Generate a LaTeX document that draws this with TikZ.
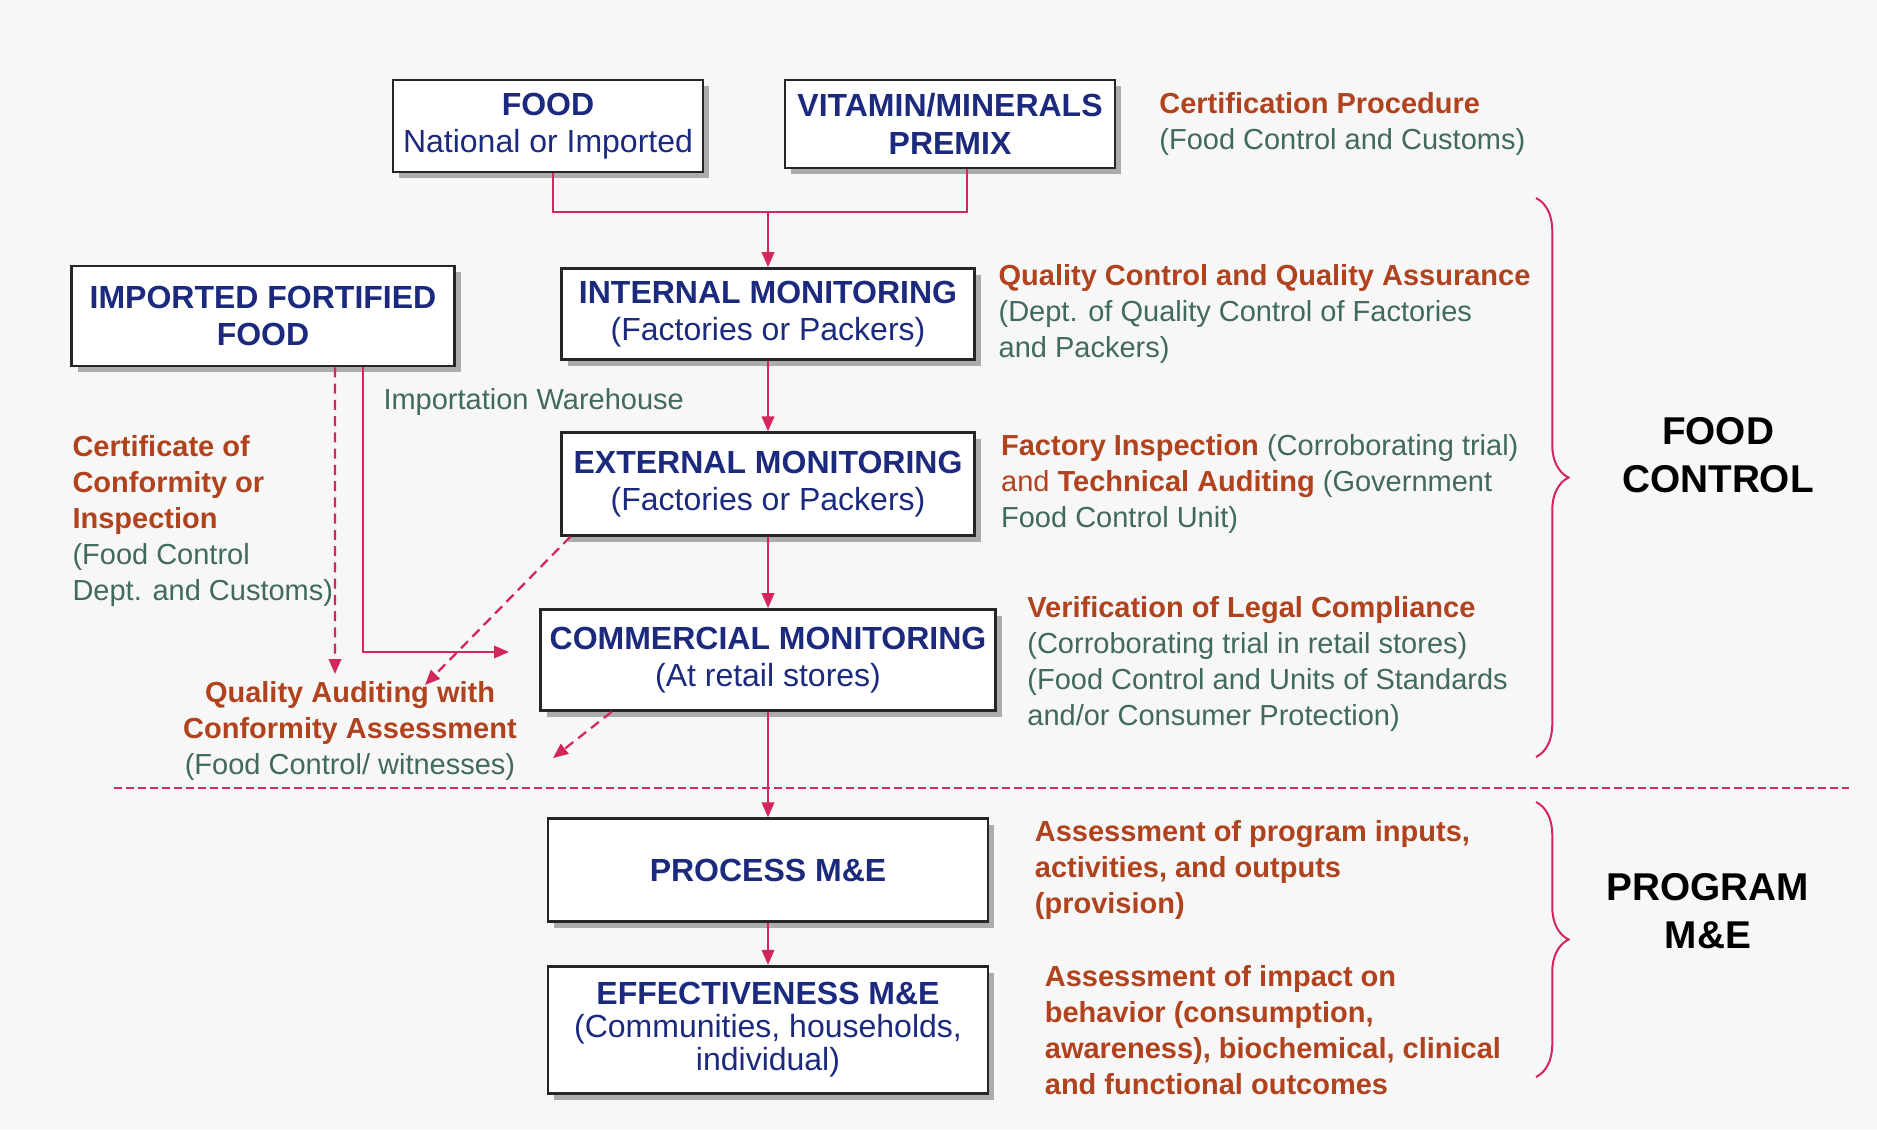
\documentclass[tikz,border=0pt]{standalone}
\usepackage{fontspec}
\setmainfont{Liberation Sans}
\usetikzlibrary{positioning, arrows.meta, shadows, decorations.pathreplacing}
\definecolor{navy}{HTML}{1C2A7E}
\definecolor{rust}{HTML}{B0431D}
\definecolor{sage}{HTML}{41695D}
\definecolor{crimson}{HTML}{D3265A}
\definecolor{paper}{HTML}{F7F7F7}
\newcommand{\boxfont}{\fontsize{12.8}{15}\selectfont}
\newcommand{\notefont}{\fontsize{11.6}{14.4}\selectfont}
\newcommand{\redbf}[1]{\textcolor{rust}{\textbf{#1}}}

\begin{document}
\begin{tikzpicture}[
    x=0.4pt, y=-0.4pt,
    box/.style={rectangle, draw=black!85, fill=white, line width=1.1pt, align=center, text=navy, font=\boxfont, inner sep=2pt,
        drop shadow={shadow xshift=2.5pt, shadow yshift=-2.5pt, fill=black, opacity=0.3}},
    note/.style={align=left, text=sage, font=\notefont, inner sep=0pt},
    link/.style={draw=crimson, line width=0.8pt},
    arrow/.style={link, -{Triangle[length=6pt, width=5pt]}},
    dasharrow/.style={arrow, line width=0.9pt, dash pattern=on 4pt off 2.5pt},
    brace/.style={draw=crimson, line width=0.8pt, decorate, decoration={brace, amplitude=13pt}},
    section/.style={font=\fontsize{15.5}{19.2}\selectfont\bfseries, align=center},
]

% Background
\fill[paper] (0,0) rectangle (1877,1129);

% Sources
\node[box, minimum width=124pt, minimum height=36.8pt] (food) at (548,126) {\textbf{FOOD}\\National or Imported};
\node[box, minimum width=132pt, minimum height=35.2pt] (premix) at (950,124) {\textbf{VITAMIN/MINERALS}\\\textbf{PREMIX}};
\node[box, minimum width=153pt, minimum height=40pt] (impfood) at (263,316) {\textbf{IMPORTED FORTIFIED}\\\textbf{FOOD}};

% Food control chain
\node[box, minimum width=165pt, minimum height=36.4pt] (intmon) at (768,314) {\textbf{INTERNAL MONITORING}\\(Factories or Packers)};
\node[box, minimum width=165pt, minimum height=41pt] (extmon) at (768,484) {\textbf{EXTERNAL MONITORING}\\(Factories or Packers)};
\node[box, minimum width=182pt, minimum height=40.4pt] (common) at (768,660) {\textbf{COMMERCIAL MONITORING}\\(At retail stores)};

% Program M&E chain
\node[box, minimum width=176pt, minimum height=41pt] (procme) at (768,870) {\textbf{PROCESS M\&E}};
\node[box, minimum width=176pt, minimum height=51pt, font=\fontsize{12.8}{13.2}\selectfont] (effme) at (768,1030) {\textbf{EFFECTIVENESS M\&E}\\(Communities, households,\\individual)};

% Notes
\node[note, right=17pt of premix] (certproc) {\redbf{Certification Procedure}\\(Food Control and Customs)};
\node[note, right=9pt of intmon] (qcqa) {\redbf{Quality Control and Quality Assurance}\\(Dept. of Quality Control of Factories\\and Packers)};
\node[note, right=10pt of extmon] (factory) {\redbf{Factory Inspection} (Corroborating trial)\\\textcolor{rust}{and} \redbf{Technical Auditing} (Government\\Food Control Unit)};
\node[note, right=12pt of common, yshift=-1.5pt] (verif) {\redbf{Verification of Legal Compliance}\\(Corroborating trial in retail stores)\\(Food Control and Units of Standards\\and/or Consumer Protection)};
\node[note, right=18pt of procme, text=rust, font=\notefont\bfseries] (procnote) {Assessment of program inputs,\\activities, and outputs\\(provision)};
\node[note, right=22pt of effme, text=rust, font=\notefont\bfseries] (effnote) {Assessment of impact on\\behavior (consumption,\\awareness), biochemical, clinical\\and functional outcomes};
\node[note, anchor=west] (certconf) at (72,521) {\redbf{Certificate of}\\\redbf{Conformity or}\\\redbf{Inspection}\\(Food Control\\Dept. and Customs)};
\node[note, align=center] (audit) at (350,731) {\redbf{Quality Auditing with}\\\redbf{Conformity Assessment}\\(Food Control/ witnesses)};
\node[note, anchor=west] (warehouse) at (383,402) {Importation Warehouse};

% Free arrow ends
\coordinate (merge) at (768,212);
\coordinate (whtip) at (509,652);
\coordinate (certtip) at (335,674);
\coordinate (exttip) at (425,685);
\coordinate (comtip) at (553,758);

% Arrows
\draw[link] ([xshift=2pt]food.south) |- (merge) -| ([xshift=6.7pt]premix.south);
\draw[arrow] (merge) -- (intmon);
\draw[arrow] (intmon) -- (extmon);
\draw[arrow] (extmon) -- (common);
\draw[arrow] (common) -- (procme);
\draw[arrow] (procme) -- (effme);
\draw[arrow] ([xshift=40pt]impfood.south) |- (whtip);
\draw[dasharrow] ([xshift=28.8pt]impfood.south) -- (certtip);
\draw[dasharrow] ([xshift=4pt]extmon.south west) -- (exttip);
\draw[dasharrow] ([xshift=29pt]common.south west) -- (comtip);

% Separator
\draw[crimson, line width=1pt, dash pattern=on 3pt off 1.8pt] (114,788) -- (1849,788);

% Braces and sections
\draw[brace] (1536,198) -- (1536,757);
\draw[brace] (1536,802) -- (1536,1077);
\node[section] (foodctl) at (1718,455) {FOOD\\CONTROL};
\node[section] (progme) at (1708,911) {PROGRAM\\M\&E};

\end{tikzpicture}
\end{document}
